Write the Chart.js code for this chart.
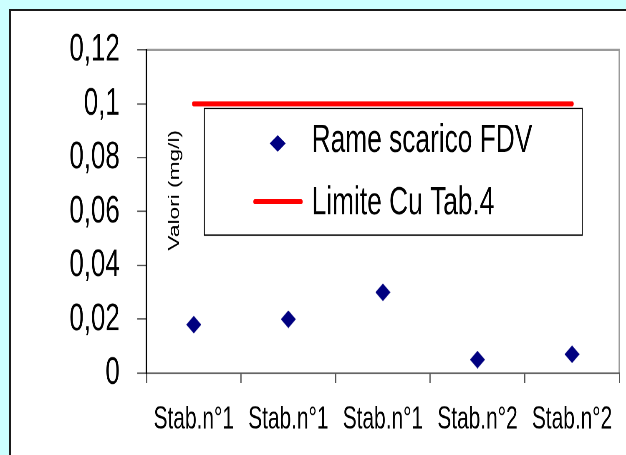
<!DOCTYPE html>
<html><head><meta charset="utf-8">
<script src="https://cdn.jsdelivr.net/npm/chart.js@4/dist/chart.umd.min.js"></script>
<style>
html,body{margin:0;padding:0;background:#ccffff;overflow:hidden;width:626px;height:455px;}
#frame{position:absolute;left:9px;top:9px;width:700px;height:500px;background:#fff;border:2px solid #1a1a1a;box-sizing:border-box;}
#c{position:absolute;left:0;top:0;}
</style></head><body>
<div id="frame"></div>
<canvas id="c" width="750" height="361" style="width:626px;height:455px;"></canvas>
<script>
// ---- data ----
const categories = ['Stab.n°1', 'Stab.n°1', 'Stab.n°1', 'Stab.n°2', 'Stab.n°2'];
const rameValues = [0.018, 0.020, 0.030, 0.005, 0.007];
const limiteValues = [0.1, 0.1, 0.1, 0.1, 0.1];
const yTickLabels = ['0', '0,02', '0,04', '0,06', '0,08', '0,1', '0,12'];
const seriesNames = ['Rame scarico FDV', 'Limite Cu Tab.4'];
const yAxisTitle = 'Valori (mg/l)';

const FONT = '"Liberation Sans", Arial, sans-serif';
const NAVY = '#000080';
const RED = '#ff0000';

// diamond marker image (logical size w x h)
function makeDiamond(w, h, color) {
  const k = 4;
  const c = document.createElement('canvas');
  c.width = w * k; c.height = h * k;
  const g = c.getContext('2d');
  g.fillStyle = color;
  g.beginPath();
  g.moveTo(c.width / 2, 0);
  g.lineTo(c.width, c.height / 2);
  g.lineTo(c.width / 2, c.height);
  g.lineTo(0, c.height / 2);
  g.closePath();
  g.fill();
  const img = new Image();
  img.width = w; img.height = h;
  return new Promise(res => { img.onload = () => res(img); img.src = c.toDataURL(); });
}

const deco = {
  id: 'deco',
  beforeDraw(chart) {
    const {ctx, chartArea: a} = chart;
    ctx.save();
    ctx.strokeStyle = '#9a9a9a';
    ctx.lineWidth = 1.8;
    ctx.beginPath();
    ctx.moveTo(a.left, a.top);
    ctx.lineTo(a.right, a.top);
    ctx.lineTo(a.right, a.bottom);
    ctx.stroke();
    ctx.restore();
  },
  afterDraw(chart) {
    const ctx = chart.ctx;
    // rotated axis title inside plot
    ctx.save();
    ctx.translate(209.6, 151);
    ctx.rotate(-Math.PI / 2);
    ctx.font = '18px ' + FONT;
    ctx.fillStyle = '#000';
    ctx.textAlign = 'center';
    ctx.textBaseline = 'middle';
    ctx.fillText(yAxisTitle, 0, 0);
    ctx.restore();

    // legend box
    ctx.save();
    const bx = 244.8, by = 86, bw = 452.8, bh = 100.5;
    ctx.fillStyle = '#fff';
    ctx.fillRect(bx, by, bw, bh);
    ctx.strokeStyle = '#000';
    ctx.lineWidth = 1.1;
    ctx.strokeRect(bx, by, bw, bh);
    // marker 1
    ctx.fillStyle = NAVY;
    ctx.beginPath();
    const mx = 332.7, my = 113.8, hw = 9.6, hh = 6.6;
    ctx.moveTo(mx, my - hh);
    ctx.lineTo(mx + hw, my);
    ctx.lineTo(mx, my + hh);
    ctx.lineTo(mx - hw, my);
    ctx.closePath();
    ctx.fill();
    // marker 2
    ctx.strokeStyle = RED;
    ctx.lineWidth = 4;
    ctx.lineCap = 'round';
    ctx.beginPath();
    ctx.moveTo(305.5, 160);
    ctx.lineTo(360.6, 160);
    ctx.stroke();
    // texts
    ctx.fillStyle = '#000';
    ctx.font = '31.5px ' + FONT;
    ctx.textAlign = 'left';
    ctx.textBaseline = 'middle';
    ctx.fillText(seriesNames[0], 373.4, 112);
    ctx.fillText(seriesNames[1], 373.4, 161.5);
    ctx.restore();
  }
};

makeDiamond(18, 14, NAVY).then(diamond => {
  const canvas = document.getElementById('c');
  new Chart(canvas, {
    data: {
      labels: categories,
      datasets: [
        {
          type: 'line',
          label: seriesNames[1],
          data: limiteValues,
          borderColor: RED,
          backgroundColor: RED,
          borderWidth: 4,
          borderCapStyle: 'round',
          pointRadius: 0,
          pointHoverRadius: 0,
          fill: false,
          tension: 0
        },
        {
          type: 'line',
          label: seriesNames[0],
          data: rameValues,
          showLine: false,
          pointStyle: diamond,
          pointRadius: 7,
          pointHoverRadius: 7,
          borderColor: NAVY,
          backgroundColor: NAVY
        }
      ]
    },
    options: {
      responsive: false,
      devicePixelRatio: 2,
      animation: false,
      events: [],
      layout: {padding: {left: 0, top: 37, right: 7, bottom: 0}},
      plugins: {legend: {display: false}, tooltip: {enabled: false}, title: {display: false}},
      scales: {
        x: {
          type: 'category',
          offset: true,
          grid: {offset: true, drawOnChartArea: false, drawTicks: true, tickLength: 8, color: '#555', lineWidth: 1.4},
          border: {color: '#555', width: 1.1},
          ticks: {color: '#000', font: {family: FONT, size: 25}, padding: 14, maxRotation: 0, minRotation: 0, autoSkip: false},
          afterFit: s => { s.height = 65; }
        },
        y: {
          min: 0,
          max: 0.12,
          grid: {drawOnChartArea: false, drawTicks: true, tickLength: 11, color: '#555', lineWidth: 1.1},
          border: {color: '#000', width: 1.6},
          ticks: {
            stepSize: 0.02,
            color: '#000',
            font: {family: FONT, size: 31},
            padding: 21,
            callback: v => yTickLabels[Math.round(v / 0.02)]
          },
          afterFit: s => { s.width = 175.5; }
        }
      }
    },
    plugins: [deco]
  });
});
</script></body></html>
